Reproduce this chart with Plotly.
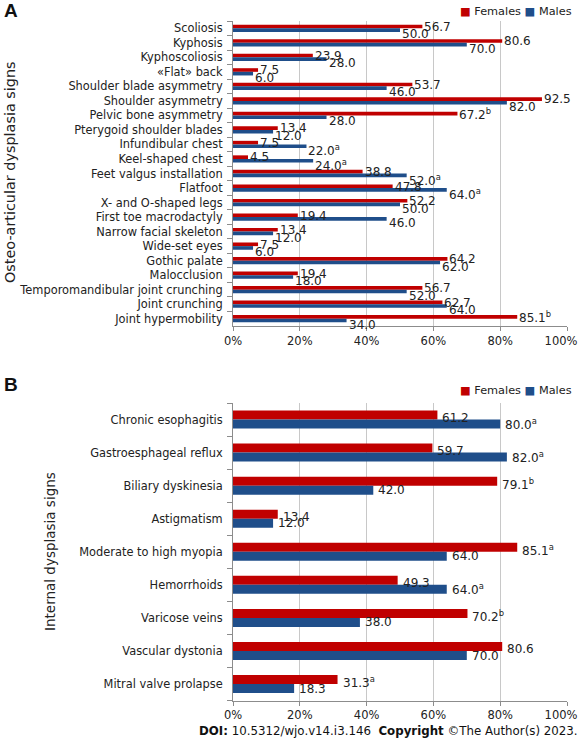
import plotly.graph_objects as go

# ---------------- data ----------------
a_categories = [
    "Scoliosis", "Kyphosis", "Kyphoscoliosis", "«Flat» back", "Shoulder blade asymmetry",
    "Shoulder asymmetry", "Pelvic bone asymmetry", "Pterygoid shoulder blades",
    "Infundibular chest", "Keel-shaped chest", "Feet valgus installation", "Flatfoot",
    "X- and O-shaped legs", "First toe macrodactyly", "Narrow facial skeleton",
    "Wide-set eyes", "Gothic palate", "Malocclusion", "Temporomandibular joint crunching",
    "Joint crunching", "Joint hypermobility",
]
a_females = [56.7, 80.6, 23.9, 7.5, 53.7, 92.5, 67.2, 13.4, 7.5, 4.5, 38.8, 47.8,
             52.2, 19.4, 13.4, 7.5, 64.2, 19.4, 56.7, 62.7, 85.1]
a_males = [50.0, 70.0, 28.0, 6.0, 46.0, 82.0, 28.0, 12.0, 22.0, 24.0, 52.0, 64.0,
           50.0, 46.0, 12.0, 6.0, 62.0, 18.0, 52.0, 64.0, 34.0]
a_female_marks = ["", "", "", "", "", "", "b", "", "", "", "", "",
                  "", "", "", "", "", "", "", "", "b"]
a_male_marks = ["", "", "", "", "", "", "", "", "a", "a", "a", "a",
                "", "", "", "", "", "", "", "", ""]

b_categories = [
    "Chronic esophagitis", "Gastroesphageal reflux", "Biliary dyskinesia", "Astigmatism",
    "Moderate to high myopia", "Hemorrhoids", "Varicose veins", "Vascular dystonia",
    "Mitral valve prolapse",
]
b_females = [61.2, 59.7, 79.1, 13.4, 85.1, 49.3, 70.2, 80.6, 31.3]
b_males = [80.0, 82.0, 42.0, 12.0, 64.0, 64.0, 38.0, 70.0, 18.3]
b_female_marks = ["", "", "b", "", "a", "", "b", "", "a"]
b_male_marks = ["a", "a", "", "", "", "a", "", "", ""]

x_ticks = [0, 20, 40, 60, 80, 100]
x_tick_labels = ["0%", "20%", "40%", "60%", "80%", "100%"]
series_names = ["Females", "Males"]

# ---------------- style ----------------
W, H = 578, 741
RED = "#C00000"
BLUE = "#1F4E8A"
FONT = "DejaVu Sans"
TXT = "#222222"


def fx(p):
    return p / W


def fy(p):
    return 1 - p / H


fig = go.Figure()

panels = [
    dict(cats=a_categories, f=a_females, m=a_males, fm=a_female_marks, mm=a_male_marks,
         xa="x", xm="x3", ya="y", w=0.25, fys=1.5, mys=-6.0, xs=0),
    dict(cats=b_categories, f=b_females, m=b_males, fm=b_female_marks, mm=b_male_marks,
         xa="x2", xm="x4", ya="y2", w=0.272, fys=2.0, mys=-4.5, xs=3),
]

annotations = []
for p in panels:
    fig.add_trace(go.Bar(y=p["cats"], x=p["f"], orientation="h", name=series_names[0],
                         marker=dict(color=RED, line=dict(width=0)),
                         offset=-p["w"], width=p["w"], xaxis=p["xa"], yaxis=p["ya"],
                         showlegend=False, hoverinfo="x+y"))
    fig.add_trace(go.Bar(y=p["cats"], x=p["m"], orientation="h", name=series_names[1],
                         marker=dict(color=BLUE, line=dict(width=0)),
                         offset=0, width=p["w"], xaxis=p["xm"], yaxis=p["ya"],
                         showlegend=False, hoverinfo="x+y"))
    for vals, marks, ys in ((p["f"], p["fm"], p["fys"]), (p["m"], p["mm"], p["mys"])):
        for c, v, mk in zip(p["cats"], vals, marks):
            t = f"{v:.1f}" + (f"<sup>{mk}</sup>" if mk else "")
            annotations.append(dict(xref=p["xa"], yref=p["ya"], x=v, y=c, text=t,
                                    showarrow=False, xanchor="left", yanchor="middle",
                                    xshift=p["xs"], yshift=ys,
                                    font=dict(family=FONT, size=12, color=TXT)))

# panel letters
annotations.append(dict(xref="paper", yref="paper", x=fx(2), y=fy(10.5), text="<b>A</b>",
                        showarrow=False, xanchor="left", yanchor="middle",
                        font=dict(family="Liberation Sans", size=19, color="#111")))
annotations.append(dict(xref="paper", yref="paper", x=fx(2), y=fy(384), text="<b>B</b>",
                        showarrow=False, xanchor="left", yanchor="middle",
                        font=dict(family="Liberation Sans", size=19, color="#111")))
# axis titles
annotations.append(dict(xref="paper", yref="paper", x=fx(10), y=fy(172),
                        text="Osteo-articular dysplasia signs", textangle=-90,
                        showarrow=False, xanchor="center", yanchor="middle",
                        font=dict(family=FONT, size=14.4, color=TXT)))
annotations.append(dict(xref="paper", yref="paper", x=fx(50), y=fy(551),
                        text="Internal dysplasia signs", textangle=-90,
                        showarrow=False, xanchor="center", yanchor="middle",
                        font=dict(family=FONT, size=13.5, color=TXT)))
# legends
for ytop in (11.5, 390.5):
    annotations.append(dict(xref="paper", yref="paper", x=fx(574), y=fy(ytop),
                            text=f"<span style='color:{RED}'>■</span> {series_names[0]} "
                                 f"<span style='color:{BLUE}'>■</span> {series_names[1]}",
                            showarrow=False, xanchor="right", yanchor="middle",
                            font=dict(family=FONT, size=11.3, color=TXT)))
# DOI line
annotations.append(dict(xref="paper", yref="paper", x=fx(580), y=fy(731),
                        text="<b>DOI:</b> 10.5312/wjo.v14.i3.146  <b>Copyright</b> ©The Author(s) 2023.",
                        showarrow=False, xanchor="right", yanchor="middle",
                        font=dict(family=FONT, size=11.8, color="#111")))

tickfont_x = dict(family=FONT, size=11.5, color=TXT)
xaxis_common = dict(range=[0, 100], autorange=False, tickmode="array", tickvals=x_ticks,
                    ticktext=x_tick_labels[:-1] + [""], ticklabeloverflow="allow",
                    showgrid=True, gridcolor="#C8C8C8", gridwidth=1, showline=True,
                    linecolor="#8C8C8C", ticks="outside", ticklen=4, tickcolor="#8C8C8C",
                    zeroline=False, tickfont=tickfont_x, fixedrange=True)
# overlay axis (same 0-100 scale, used by the Males bars) carrying only the "100%"
# label, nudged left so that it stays on the page
xaxis_last = dict(range=[0, 100], autorange=False, tickmode="array", tickvals=x_ticks[-1:],
                  ticktext=x_tick_labels[-1:], ticklabelshift=-6, ticklabeloverflow="allow",
                  showgrid=False, showline=False, ticks="outside", ticklen=4,
                  tickcolor="rgba(0,0,0,0)", zeroline=False, tickfont=tickfont_x,
                  fixedrange=True, side="bottom")
yaxis_common = dict(type="category", autorange=False, showline=True,
                    linecolor="#8C8C8C", ticks="outside", tickson="boundaries", ticklen=5,
                    tickcolor="#8C8C8C", showgrid=False, zeroline=False,
                    ticklabelstandoff=7,
                    tickfont=dict(family=FONT, size=11.4, color=TXT), fixedrange=True)

fig.update_layout(
    width=W, height=H, margin=dict(l=0, r=0, t=0, b=0, autoexpand=False),
    paper_bgcolor="white", plot_bgcolor="white",
    barmode="overlay",
    xaxis=dict(domain=[fx(233), fx(567)], anchor="y", automargin=False, **xaxis_common),
    yaxis=dict(domain=[fy(326), fy(21)], anchor="x", tickmode="array", automargin=False,
               tickvals=a_categories, range=[len(a_categories) - 0.5, -0.5], **yaxis_common),
    xaxis2=dict(domain=[fx(233), fx(567)], anchor="y2", automargin=False, **xaxis_common),
    yaxis2=dict(domain=[fy(700.6), fy(403)], anchor="x2", tickmode="array", automargin=False,
                tickvals=b_categories, range=[len(b_categories) - 0.5, -0.5], **yaxis_common),
    xaxis3=dict(overlaying="x", anchor="y", automargin=False, **xaxis_last),
    xaxis4=dict(overlaying="x2", anchor="y2", automargin=False, **xaxis_last),
    annotations=annotations,
    showlegend=False,
)

fig.write_html(
    "out.html", config={"displayModeBar": False},
    post_script=("document.body.style.margin='0';"
                 "document.body.style.overflow='hidden';"
                 "document.documentElement.style.overflow='hidden';"),
)
